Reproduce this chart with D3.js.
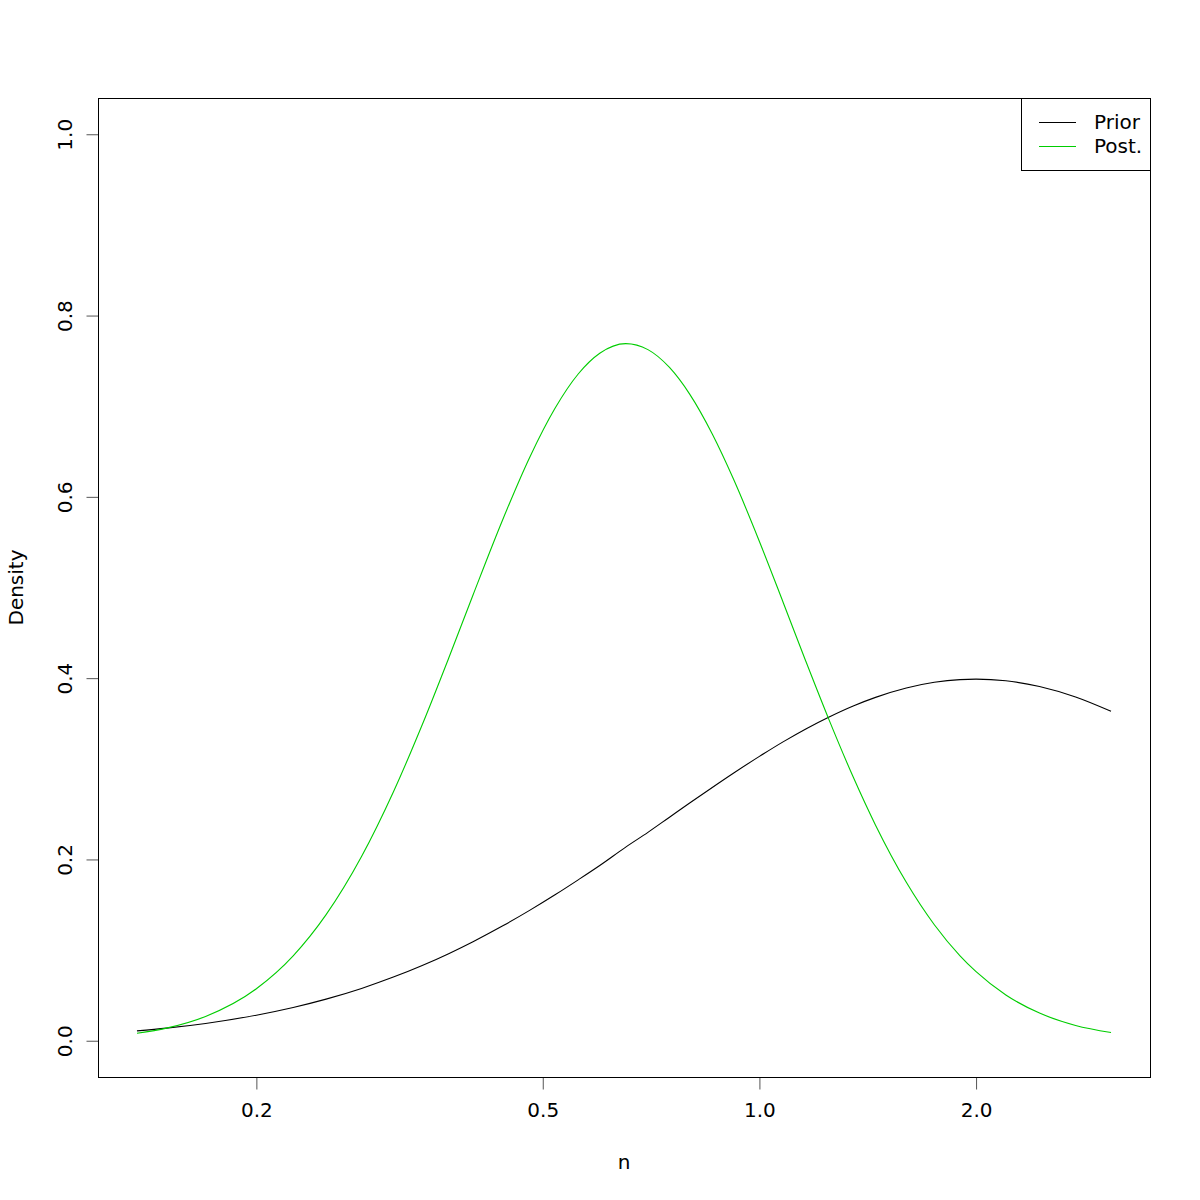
<!DOCTYPE html>
<html>
<head>
<meta charset="utf-8">
<script src="https://cdn.jsdelivr.net/npm/d3@7"></script>
<style>
  html, body { margin: 0; padding: 0; background: #ffffff; }
  svg text { font-family: "DejaVu Sans", sans-serif; fill: #000; }
</style>
</head>
<body>
<svg id="chart" width="1200" height="1200"></svg>
<script>
// ---- data ----
const nValues = [0.1365, 0.15, 0.17, 0.2, 0.225, 0.25, 0.28, 0.31, 0.34, 0.37, 0.4, 0.44, 0.48, 0.52, 0.56, 0.6, 0.652, 0.7, 0.75, 0.8, 0.86, 0.92, 1.0, 1.08, 1.16, 1.25, 1.35, 1.45, 1.6, 1.75, 1.9, 2.0, 2.2, 2.45, 2.75, 3.08];
const priorDensity = [0.0109, 0.0139, 0.0191, 0.0282, 0.0367, 0.0459, 0.0577, 0.0702, 0.0830, 0.0961, 0.1093, 0.1268, 0.1441, 0.1610, 0.1775, 0.1933, 0.2136, 0.2299, 0.2466, 0.2622, 0.2794, 0.2951, 0.3137, 0.3300, 0.3440, 0.3572, 0.3693, 0.3788, 0.3891, 0.3954, 0.3984, 0.3989, 0.3971, 0.3908, 0.3792, 0.3634];
const postDensity = [0.0082, 0.0139, 0.0268, 0.0574, 0.0937, 0.1391, 0.2032, 0.2744, 0.3486, 0.4220, 0.4918, 0.5751, 0.6443, 0.6977, 0.7355, 0.7584, 0.7690, 0.7624, 0.7427, 0.7133, 0.6693, 0.6199, 0.5508, 0.4827, 0.4187, 0.3537, 0.2909, 0.2378, 0.1748, 0.1280, 0.0937, 0.0762, 0.0505, 0.0305, 0.0169, 0.0091];
const xTicks = [0.2, 0.5, 1.0, 2.0];
const xTickLabels = ["0.2", "0.5", "1.0", "2.0"];
const yTicks = [0.0, 0.2, 0.4, 0.6, 0.8, 1.0];
const yTickLabels = ["0.0", "0.2", "0.4", "0.6", "0.8", "1.0"];
const seriesNames = ["Prior", "Post."];
const seriesColors = ["#000000", "#00cd00"];
const xDomain = [0.1205, 3.489];
const yDomain = [-0.04, 1.04];

// ---- layout ----
const plotL = 98, plotR = 1150, plotT = 98, plotB = 1077;
const fontSize = 20;
const svg = d3.select("#chart");

const x = d3.scaleLog().domain(xDomain).range([plotL, plotR]);
const y = d3.scaleLinear().domain(yDomain).range([plotB, plotT]);

// curves
const series = [priorDensity, postDensity];
const line = d3.line()
  .x((d, i) => x(nValues[i]))
  .y(d => y(d))
  .curve(d3.curveMonotoneX);

series.forEach((s, k) => {
  svg.append("path")
    .datum(s)
    .attr("d", line)
    .attr("fill", "none")
    .attr("stroke", seriesColors[k])
    .attr("stroke-width", 1.1);
});

// x axis
const xAxis = d3.axisBottom(x)
  .tickValues(xTicks)
  .tickFormat((d, i) => xTickLabels[i])
  .tickSize(12)
  .tickPadding(13);
const gx = svg.append("g").attr("transform", `translate(0,${plotB + 0.5})`).call(xAxis);
gx.select(".domain").remove();
gx.selectAll(".tick line").attr("stroke", "#555");
gx.selectAll("text").attr("font-size", fontSize).attr("font-family", "DejaVu Sans, sans-serif");

// y axis
const yAxis = d3.axisLeft(y)
  .tickValues(yTicks)
  .tickFormat((d, i) => yTickLabels[i])
  .tickSize(12)
  .tickPadding(0);
const gy = svg.append("g").attr("transform", `translate(${plotL + 0.5},0)`).call(yAxis);
gy.select(".domain").remove();
gy.selectAll(".tick line").attr("stroke", "#555");
gy.selectAll(".tick text")
  .attr("font-size", fontSize)
  .attr("font-family", "DejaVu Sans, sans-serif")
  .attr("x", null).attr("dy", null)
  .attr("text-anchor", "middle")
  .attr("transform", "translate(-27,0) rotate(-90)");

// plot box
svg.append("rect")
  .attr("x", plotL + 0.5).attr("y", plotT + 0.5)
  .attr("width", plotR - plotL).attr("height", plotB - plotT)
  .attr("fill", "none").attr("stroke", "#000").attr("stroke-width", 1);

// axis titles
svg.append("text")
  .attr("x", (plotL + plotR) / 2).attr("y", 1169)
  .attr("text-anchor", "middle").attr("font-size", fontSize)
  .text("n");
svg.append("text")
  .attr("transform", `translate(23,${(plotT + plotB) / 2}) rotate(-90)`)
  .attr("text-anchor", "middle").attr("font-size", fontSize)
  .text("Density");

// legend
const lg = svg.append("g");
lg.append("rect")
  .attr("x", 1021.5).attr("y", plotT + 0.5)
  .attr("width", plotR - 1021).attr("height", 72)
  .attr("fill", "#fff").attr("stroke", "#000").attr("stroke-width", 1);
seriesNames.forEach((name, k) => {
  const ly = 122 + k * 24;
  lg.append("line")
    .attr("x1", 1039).attr("x2", 1076)
    .attr("y1", ly + 0.5).attr("y2", ly + 0.5)
    .attr("stroke", seriesColors[k]).attr("stroke-width", 1.1);
  lg.append("text")
    .attr("x", 1094).attr("y", ly + 7)
    .attr("font-size", fontSize)
    .text(name);
});
</script>
</body>
</html>
